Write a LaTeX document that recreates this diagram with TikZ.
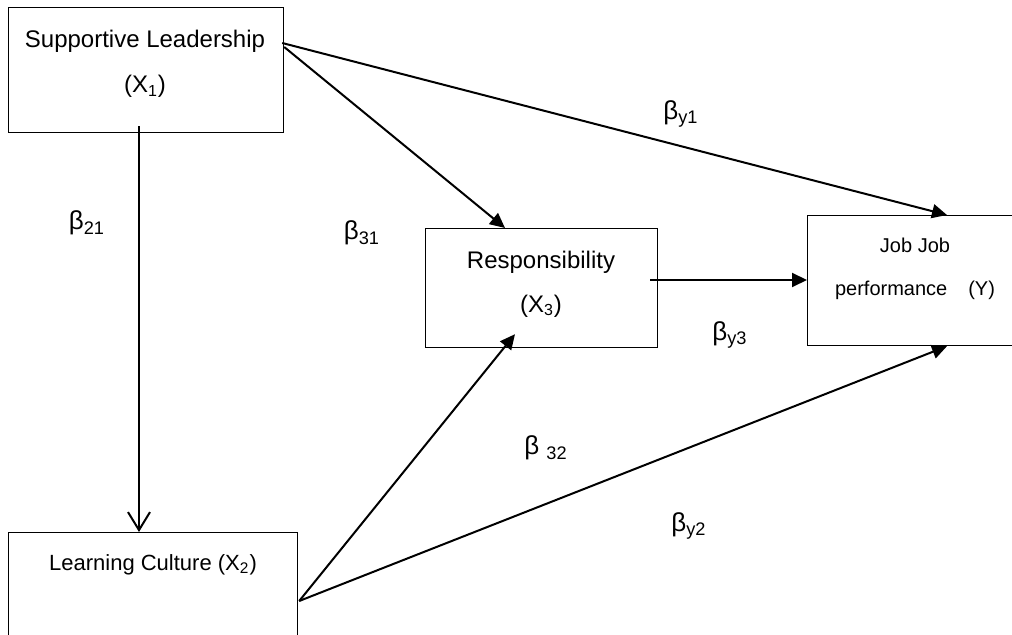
\documentclass[tikz,border=0pt]{standalone}
\usepackage{fontspec}
\setmainfont{Liberation Sans}
\usetikzlibrary{arrows.meta,calc}
\begin{document}
\begin{tikzpicture}[x=.5pt,y=-.5pt,
	box/.style={draw,line width=.6pt,inner sep=0pt,anchor=north west},
	txt/.style={align=center,inner sep=0pt},
	arr/.style={line width=1pt,-{Triangle[length=7.5pt,width=7pt]}},
	beta/.style={font=\fontsize{13}{15}\selectfont,inner sep=0pt}]
	\useasboundingbox(0,0)rectangle(1012,635);
	\clip(0,0)rectangle(1012,635);
	%boxes, in pixel units (y down)
	\node[box,minimum width=137.5pt,minimum height=62.5pt](sl)at(8,7){};
	\node[box,minimum width=144.5pt,minimum height=65pt](lc)at(8,532){};
	\node[box,minimum width=116pt,minimum height=59.5pt](rs)at(425,228){};
	\node[box,minimum width=108pt,minimum height=65pt](jp)at(807,215){};
	\node[txt,font=\fontsize{12}{22.5}\selectfont](slT)at(145,64){Supportive Leadership\\(X\textsubscript{1})};
	\node[txt,font=\fontsize{11}{13}\selectfont](lcT)at(153,565){Learning Culture (X\textsubscript{2})};
	\node[txt,font=\fontsize{12}{22}\selectfont](rsT)at(541,284){Responsibility\\(X\textsubscript{3})};
	\node[txt,font=\fontsize{10}{21.5}\selectfont](jpT)at(915,269){Job Job\\performance\hspace{7.7pt} (Y)};
	%ends of the paths
	\coordinate(slA)at($(sl.north east)+(-2,36)$);
	\coordinate(slB)at($(sl.north east)+(0,40)$);
	\coordinate(slC)at($(sl.south west)+(131,-7)$);
	\coordinate(rsA)at($(rs.north east)+(-8,52)$);
	\coordinate(lcA)at($(lc.north east)+(1,69)$);
	\draw[arr](slA)--($(jp.north west)+(140,0)$);
	\draw[arr](slB)--($(rs.north west)+(80,0)$);
	\draw[line width=1pt,-{Straight Barb[length=9pt,width=11pt]}](slC)--($(lc.north west)+(131,0)$);
	\draw[arr](rsA)--($(jp.north west)+(0,65)$);
	\draw[arr](lcA)--($(rs.south west)+(90,-14)$);
	\draw[arr](lcA)--($(jp.south west)+(140,0)$);
	%path labels
	\node[beta](b21)at(87,223){β\textsubscript{21}};
	\node[beta](b31)at(362,233){β\textsubscript{31}};
	\node[beta](by1)at(681,114){β\textsubscript{y1}};
	\node[beta](by3)at(730,335){β\textsubscript{y3}};
	\node[beta](b32)at(546,448){β \textsubscript{32}};
	\node[beta](by2)at(689,526){β\textsubscript{y2}};
\end{tikzpicture}
\end{document}
